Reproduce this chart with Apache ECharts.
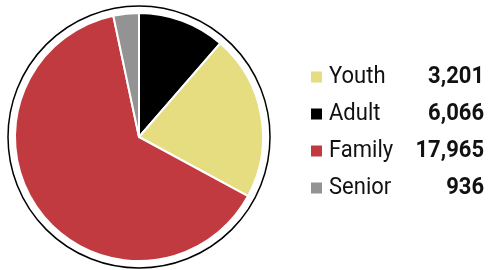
<!DOCTYPE html>
<html>
<head>
<meta charset="utf-8">
<script src="https://cdn.jsdelivr.net/npm/echarts@6/dist/echarts.min.js"></script>
<style>
html, body { margin: 0; padding: 0; background: #fff; }
#main { width: 489px; height: 270px; }
</style>
</head>
<body>
<div id="main"></div>
<script>
// legend rows as printed
var categories = ['Youth', 'Adult', 'Family', 'Senior'];
var values = [3201, 6066, 17965, 936];
// slice colours as drawn (first two are swapped vs the legend in the original)
var sliceColors = ['#000000', '#e6dd80', '#c13a40', '#939393'];
var legendColors = ['#e6dd80', '#000000', '#c13a40', '#939393'];

var cx = 139, cy = 137, r = 124;
var font = 'Roboto, "DejaVu Sans", sans-serif';

var chart = echarts.init(document.getElementById('main'), null, { renderer: 'canvas' });

var pieData = [];
for (var i = 0; i < values.length; i++) {
  pieData.push({ value: values[i], name: categories[i], itemStyle: { color: sliceColors[i] } });
}

var legendEls = [];
var rowY = [77, 114, 151, 188];
for (var j = 0; j < categories.length; j++) {
  legendEls.push({
    type: 'rect', shape: { x: 311, y: rowY[j] - 5.5, width: 11, height: 11 },
    style: { fill: legendColors[j] }, silent: true
  });
  legendEls.push({
    type: 'text', x: 329, y: rowY[j], scaleY: 1.12,
    style: { text: categories[j], fill: '#111', font: '22px ' + font, textVerticalAlign: 'middle' }
  });
  legendEls.push({
    type: 'text', x: 484, y: rowY[j], scaleY: 1.12,
    style: { text: values[j].toLocaleString('en-US'), fill: '#111', font: 'bold 22px ' + font,
             textAlign: 'right', textVerticalAlign: 'middle' }
  });
}

var option = {
  animation: false,
  series: [{
    type: 'pie',
    center: [cx, cy],
    radius: [0, r],
    startAngle: 90,
    clockwise: true,
    silent: true,
    label: { show: false },
    labelLine: { show: false },
    itemStyle: { borderColor: '#fff', borderWidth: 2 },
    data: pieData
  }],
  graphic: [{
    type: 'circle', shape: { cx: cx, cy: cy, r: 131 },
    style: { fill: 'none', stroke: '#000', lineWidth: 1.5 }, silent: true
  }].concat(legendEls)
};
chart.setOption(option);
</script>
</body>
</html>
